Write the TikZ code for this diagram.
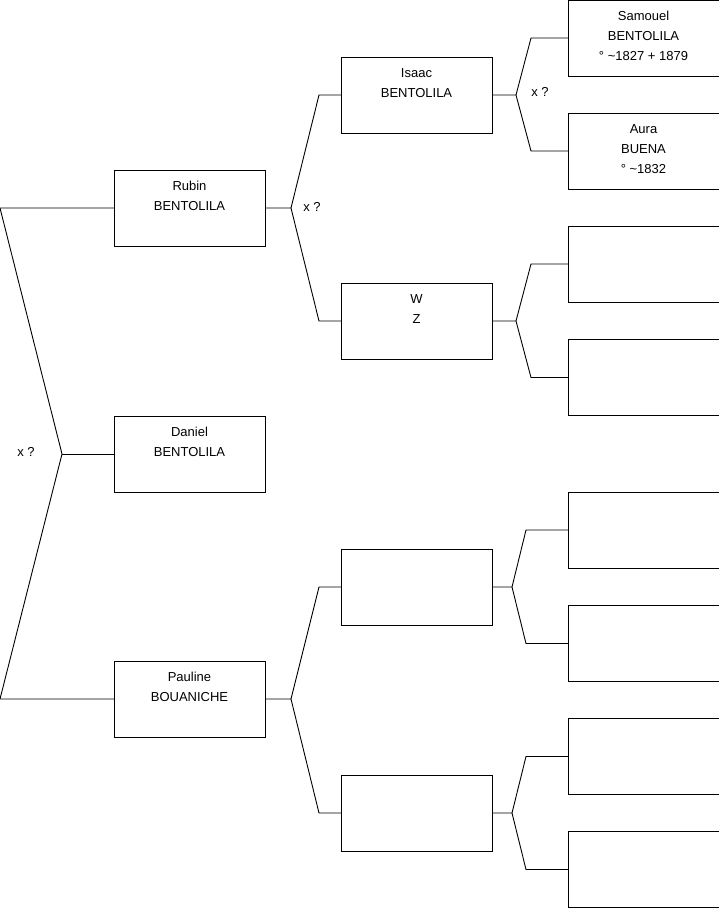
\documentclass[tikz,border=0pt]{standalone}
\usepackage{fontspec}
\setmainfont{Liberation Sans}
\usetikzlibrary{positioning}
\begin{document}
\begin{tikzpicture}[
        x=1pt, y=1pt,
        node distance=76pt,
        person/.style={rectangle, draw, line width=0.9pt, minimum width=151pt, minimum height=76pt, inner sep=0pt, outer sep=0pt},
        pname/.style={anchor=north, yshift=-11pt, align=center, inner sep=0pt, font=\fontsize{13pt}{20pt}\selectfont},
        note/.style={font=\fontsize{13pt}{16pt}\selectfont, inner sep=0pt},
        link/.style={draw, line width=0.9pt}
    ]
        \useasboundingbox (0,0) rectangle (719,-908);

        % generation 1
        \node [person, label={[pname]north:{Rubin\\BENTOLILA}}] (rubin) at (189.5,-208) {};
        \node [person, below=170pt of rubin, label={[pname]north:{Daniel\\BENTOLILA}}] (daniel) {};
        \node [person, below=169pt of daniel, label={[pname]north:{Pauline\\BOUANICHE}}] (pauline) {};

        % generation 2
        \node [person, right=of rubin, yshift=113pt, label={[pname]north:{Isaac\\BENTOLILA}}] (isaac) {};
        \node [person, right=of rubin, yshift=-113pt, label={[pname]north:{W\\Z}}] (wz) {};
        \node [person, right=of pauline, yshift=112pt] (mid3) {};
        \node [person, right=of pauline, yshift=-114pt] (mid4) {};

        % generation 3
        \node [person, right=of isaac, yshift=57pt, label={[pname]north:{Samouel\\BENTOLILA\\° \textasciitilde1827 + 1879}}] (samouel) {};
        \node [person, right=of isaac, yshift=-56pt, label={[pname]north:{Aura\\BUENA\\° \textasciitilde1832}}] (aura) {};
        \node [person, right=of wz, yshift=57pt] (wz1) {};
        \node [person, right=of wz, yshift=-56.5pt] (wz2) {};
        \node [person, right=of mid3, yshift=57pt] (m3a) {};
        \node [person, right=of mid3, yshift=-56.5pt] (m3b) {};
        \node [person, right=of mid4, yshift=56.5pt] (m4a) {};
        \node [person, right=of mid4, yshift=-56.5pt] (m4b) {};

        % siblings
        \coordinate (j0) at ([xshift=-52pt]daniel.west);
        \coordinate (c0a) at ([xshift=-114pt]rubin.west);
        \coordinate (c0b) at ([xshift=-114pt]pauline.west);
        \path [link] (rubin.west) -- (c0a) -- (j0) -- (c0b) -- (pauline.west);
        \path [link] (j0) -- (daniel.west);

        % parents
        \foreach \kid/\up/\down/\jx/\cx in {rubin/isaac/wz/26/22, pauline/mid3/mid4/26/22,
                isaac/samouel/aura/24/37, wz/wz1/wz2/24/37, mid3/m3a/m3b/20/42, mid4/m4a/m4b/20/42} {
            \path [link] (\kid.east) -- ++(\jx,0) coordinate (j-\kid) -- ([xshift=-\cx pt]\up.west) -- (\up.west);
            \path [link] (j-\kid) -- ([xshift=-\cx pt]\down.west) -- (\down.west);
        }

        \node [note] (x0) at ([xshift=-36pt, yshift=2pt]j0) {x ?};
        \node [note] (x1) at ([xshift=21pt, yshift=1pt]j-rubin) {x ?};
        \node [note] (x2) at ([xshift=24pt, yshift=3pt]j-isaac) {x ?};
    \end{tikzpicture}
\end{document}
